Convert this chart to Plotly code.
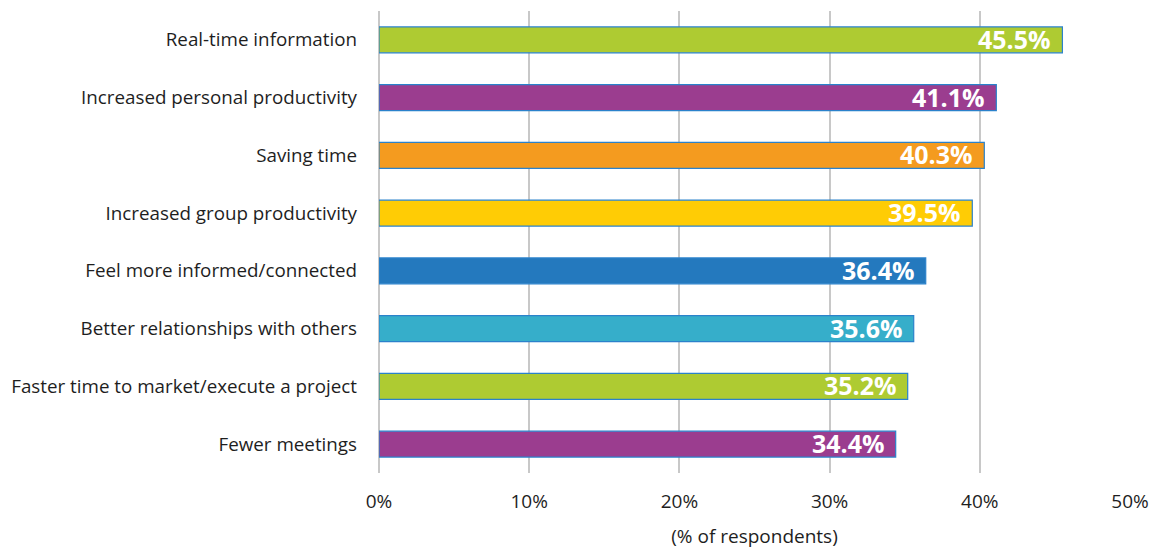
import plotly.graph_objects as go

categories = [
    "Real-time information",
    "Increased personal productivity",
    "Saving time",
    "Increased group productivity",
    "Feel more informed/connected",
    "Better relationships with others",
    "Faster time to market/execute a project",
    "Fewer meetings",
]
values = [45.5, 41.1, 40.3, 39.5, 36.4, 35.6, 35.2, 34.4]
colors = ["#AECB32", "#9B3D8F", "#F49B1F", "#FFCC05", "#2479BE", "#36AECA", "#AECB32", "#9B3D8F"]
tick_vals = [0, 10, 20, 30, 40, 50]
tick_text = ["0%", "10%", "20%", "30%", "40%", "50%"]

fig = go.Figure(go.Bar(
    y=categories,
    x=values,
    orientation="h",
    width=0.45,
    marker=dict(color=colors, line=dict(color="#2B82CB", width=1.2)),
    textposition="none",
    hoverinfo="x+y",
))

for c, v in zip(categories, values):
    fig.add_annotation(
        x=v, y=c, xref="x", yref="y",
        text=f"{v:.1f}%", showarrow=False,
        xanchor="right", xshift=-9, yshift=1,
        font=dict(family="Open Sans", size=25, color="white", weight="bold"),
    )

fig.update_layout(
    width=1160, height=548,
    margin=dict(l=371, r=38, t=3, b=83),
    paper_bgcolor="white", plot_bgcolor="white",
    font=dict(family="Open Sans", size=19, color="#1E1E1E"),
    showlegend=False,
)
fig.update_xaxes(
    range=[0, 50], tickvals=tick_vals, ticktext=tick_text,
    showgrid=True, gridcolor="#C8C8C8", gridwidth=1.5,
    zeroline=True, zerolinecolor="#C8C8C8", zerolinewidth=1.5,
    tickfont=dict(size=19, color="#1E1E1E"),
    ticks="", ticklabelstandoff=15, automargin=False,
    title=dict(text="(% of respondents)", font=dict(size=19, color="#1E1E1E"), standoff=16),
)
fig.update_yaxes(
    categoryorder="array", categoryarray=categories[::-1],
    showgrid=False, ticks="", ticklabelstandoff=21, automargin=False,
    tickfont=dict(size=18.8, color="#1E1E1E"),
)

fig.write_html("out.html")
